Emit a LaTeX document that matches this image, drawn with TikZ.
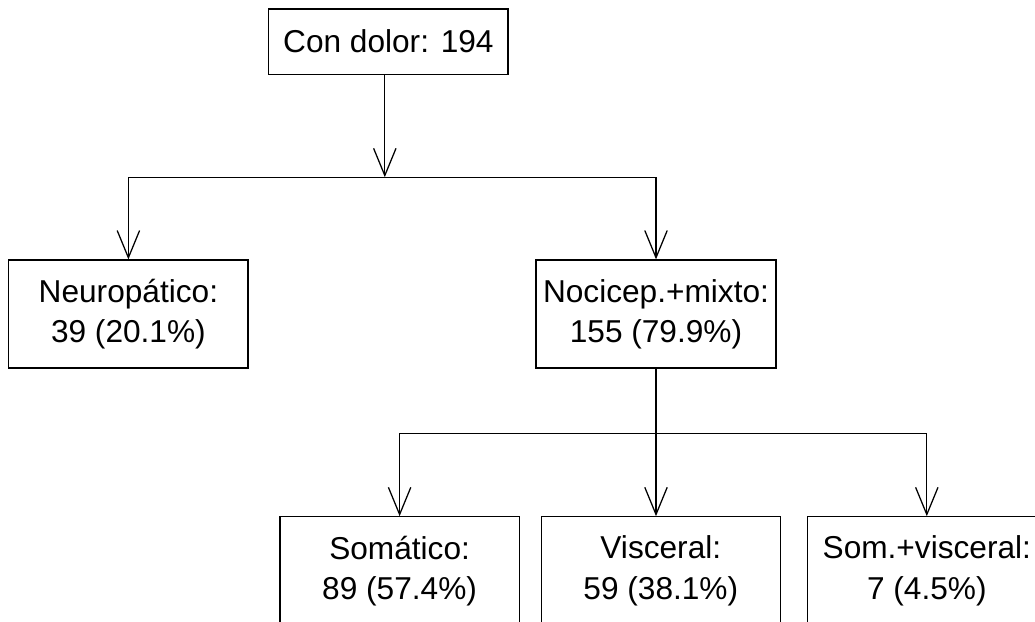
\documentclass[tikz,border=0pt]{standalone}
\usepackage{fontspec}
\setmainfont{Liberation Sans}
\usetikzlibrary{arrows.meta}

\begin{document}
\begin{tikzpicture}[
boxnode/.style={rectangle, draw=black, line width=0.9pt, minimum width=5.98cm, align=center, inner sep=0pt, font=\fontsize{22.5}{28.5}\selectfont},
link/.style={line width=0.9pt},
arrowlink/.style={line width=0.9pt, -{Straight Barb[length=6.8mm,width=5.6mm,line width=0.9pt]}}
]
    \clip (0,0) rectangle (25.875,-15.525);

    \node [boxnode,minimum height=1.63cm] (total) at (9.71,-1.04) {Con dolor: 194};

    \node [boxnode,minimum height=2.70cm] (neuro) at (3.21,-7.85) {Neuropático:\\39 (20.1\%)};
    \node [boxnode,minimum height=2.70cm,minimum width=6.0cm] (noci) at (16.40,-7.85) {Nocicep.+mixto:\\155 (79.9\%)};

    \node [boxnode,minimum height=2.70cm] (soma) at (9.99,-14.27) {Somático:\\89 (57.4\%)};
    \node [boxnode,minimum height=2.70cm] (visc) at (16.52,-14.27) {Visceral:\\59 (38.1\%)};
    \node [boxnode,minimum height=2.70cm] (somvis) at (23.17,-14.27) {Som.+visceral:\\7 (4.5\%)};

    \coordinate (split1) at (9.62,-4.43);
    \coordinate (split2) at (16.40,-10.83);

    % first level
    \draw [arrowlink] (total.south -| split1) -- (split1);
    \draw [link] (neuro.north |- split1) -- (noci.north |- split1);
    \draw [arrowlink] (neuro.north |- split1) -- (neuro.north);
    \draw [arrowlink] (noci.north |- split1) -- (noci.north);

    % second level
    \draw [arrowlink] (noci.south) -- (noci.south |- visc.north);
    \draw [link] (soma.north |- split2) -- (somvis.north |- split2);
    \draw [arrowlink] (soma.north |- split2) -- (soma.north);
    \draw [arrowlink] (somvis.north |- split2) -- (somvis.north);
\end{tikzpicture}
\end{document}
